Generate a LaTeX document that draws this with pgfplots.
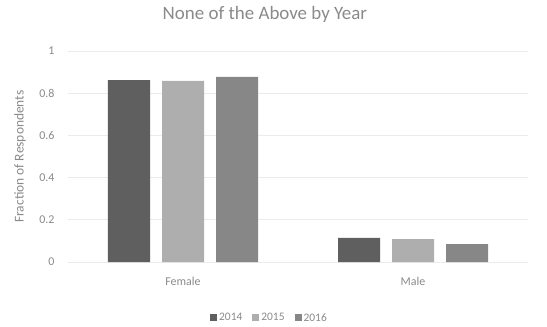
\documentclass[border=0pt]{standalone}
\usepackage{fontspec}
\setmainfont{Carlito}
\usepackage{pgfplots}
\pgfplotsset{compat=1.18}
\definecolor{cA}{HTML}{5F5F5F}
\definecolor{cB}{HTML}{AEAEAE}
\definecolor{cC}{HTML}{878787}
\definecolor{txt}{HTML}{8A8A8A}
\definecolor{gridc}{HTML}{EBEBEB}
\begin{document}
\begin{tikzpicture}
\begin{axis}[name=ax,
  scale only axis, width=460bp, height=211bp,
  ybar, bar width=42bp, ybar=12bp,
  xmin=-0.5, xmax=1.5, ymin=0, ymax=1,
  xtick={0,1}, xticklabels={Female,Male},
  ytick={0,0.2,0.4,0.6,0.8,1},
  yticklabels={0,0.2,0.4,0.6,0.8,1},
  ymajorgrids, xmajorgrids=false,
  grid style={draw=gridc, line width=0.8pt},
  axis line style={draw=none},
  major tick length=0pt,
  tick label style={font=\fontsize{12}{14}\selectfont, text=txt},
  yticklabel style={xshift=-10bp},
  xticklabel style={yshift=-12bp},
  ylabel={Fraction of Respondents},
  ylabel style={font=\fontsize{13.5}{16}\selectfont, text=txt, at={(rel axis cs:0,0.5)}, anchor=center, yshift=48bp},
  title={None of the Above by Year},
  title style={font=\fontsize{19}{22}\selectfont, text=txt, at={(rel axis cs:0.428,1)}, anchor=center, yshift=31bp},
  legend style={at={(0.438,-0.265)}, anchor=center, draw=none, legend columns=-1,
    font=\fontsize{11.5}{13}\selectfont, text=txt,
    /tikz/every even column/.append style={column sep=8bp}},
  legend image code/.code={\fill[#1] (0bp,-3.5bp) rectangle (7bp,3.5bp);},
  /pgf/number format/assume math mode=true,
]
\addplot[fill=cA, draw=none] coordinates {(0,0.862) (1,0.114)};
\addplot[fill=cB, draw=none] coordinates {(0,0.858) (1,0.109)};
\addplot[fill=cC, draw=none] coordinates {(0,0.877) (1,0.085)};
\legend{2014,2015,2016}
\end{axis}
\path[use as bounding box] ([xshift=-68bp,yshift=-65bp]ax.south west) rectangle ([xshift=19bp,yshift=51bp]ax.north east);
\end{tikzpicture}
\end{document}
